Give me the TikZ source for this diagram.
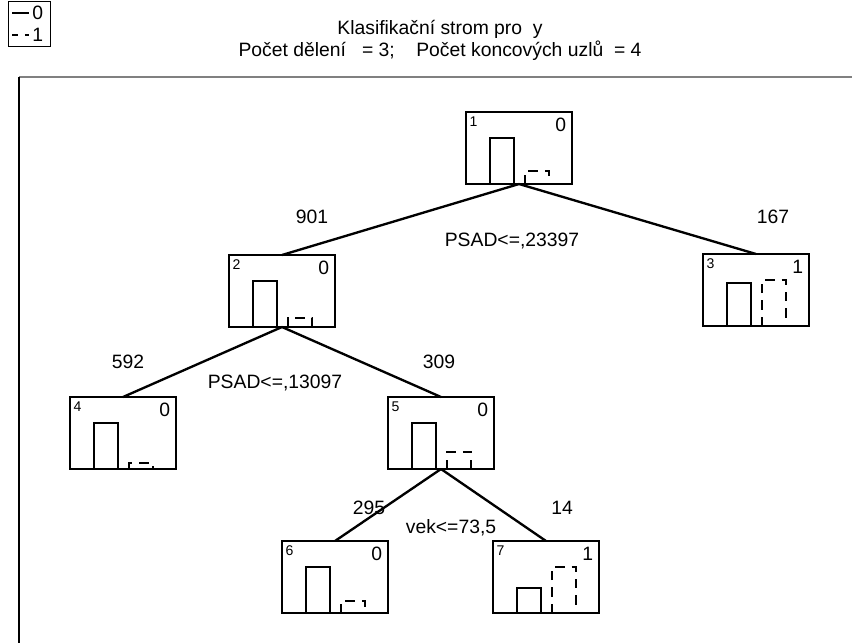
\documentclass[tikz,border=0pt]{standalone}
\usepackage{fontspec}
\setmainfont{Liberation Sans}
% sloupce histogramu v uzlu: #1 uzel, #2 vyska tridy 0, #3 vyska tridy 1
\newcommand{\sloupce}[3]{%
  \begin{scope}[shift={(#1.south west)}]
    \draw (24,0) -- (24,-#2) -- (48,-#2) -- (48,0);
    \draw[carky] (59,0) -- (59,-#3) -- (83,-#3) -- (83,0);
  \end{scope}}
\begin{document}
\begin{tikzpicture}[x=0.03cm, y=-0.03cm, line width=2pt,
  font=\fontsize{16.5}{19}\selectfont,
  uzel/.style={draw, minimum width=3.18cm, minimum height=2.16cm,
    inner sep=0pt, outer sep=0pt},
  carky/.style={dash pattern=on 8pt off 6pt},
  cislo/.style={font=\fontsize{12}{14}\selectfont, anchor=north west, inner sep=1pt},
  trida/.style={anchor=north east, inner sep=1pt}]
  \useasboundingbox (0,0) rectangle (852,643);
  % legenda a ramecek
  \draw[line width=0.8pt] (8,1) rectangle (50,46);
  \draw (12,13) -- (29,13);
  \node[anchor=west, inner sep=1pt] (leg0) at (30,13) {0};
  \draw[dash pattern=on 5pt off 6pt] (12,35) -- (29,35);
  \node[anchor=west, inner sep=1pt] (leg1) at (30,35) {1};
  \draw[gray, line width=1pt] (19,77) -- (852,77);
  \draw[line width=1pt] (19,77) -- (19,643);
  % titulek
  \node (titul) at (440,29) {Klasifikační strom pro\ \ y};
  \node (podtitul) at (440,51) {Počet dělení\ \ \ = 3;\ \ \ \ Počet koncových uzlů\ \ = 4};
  % uzly stromu
  \node[uzel] (u1) at (519,148) {};
  \node[uzel] (u2) at (282,291) {};
  \node[uzel] (u3) at (756,290) {};
  \node[uzel] (u4) at (123,433) {};
  \node[uzel] (u5) at (441,433) {};
  \node[uzel] (u6) at (335,577) {};
  \node[uzel] (u7) at (546,577) {};
  \foreach \u/\t in {1/0, 2/0, 3/1, 4/0, 5/0, 6/0, 7/1} {
    \node[cislo] (id\u) at ([shift={(1pt,-2pt)}]u\u.north west) {\u};
    \node[trida] (tr\u) at ([shift={(-3pt,-3pt)}]u\u.north east) {\t};
  }
  \sloupce{u1}{46}{13}
  \sloupce{u2}{46}{9}
  \sloupce{u3}{43}{46}
  \sloupce{u4}{46}{6}
  \sloupce{u5}{46}{17}
  \sloupce{u6}{46}{12}
  \sloupce{u7}{25}{46}
  % hrany
  \draw (u1.south) -- (u2.north);
  \draw (u1.south) -- (u3.north);
  \draw (u2.south) -- (u4.north);
  \draw (u2.south) -- (u5.north);
  \draw (u5.south) -- (u6.north);
  \draw (u5.south) -- (u7.north);
  % popisky hran
  \node (n2) at (312,217) {901};
  \node (n3) at (773,217) {167};
  \node (d1) at (512,241) {PSAD<=,23397};
  \node (n4) at (128,362) {592};
  \node (n5) at (439,362) {309};
  \node (d2) at (275,383) {PSAD<=,13097};
  \node (n6) at (369,508) {295};
  \node (n7) at (562,508) {14};
  \node (d3) at (451,528) {vek<=73,5};
\end{tikzpicture}
\end{document}
